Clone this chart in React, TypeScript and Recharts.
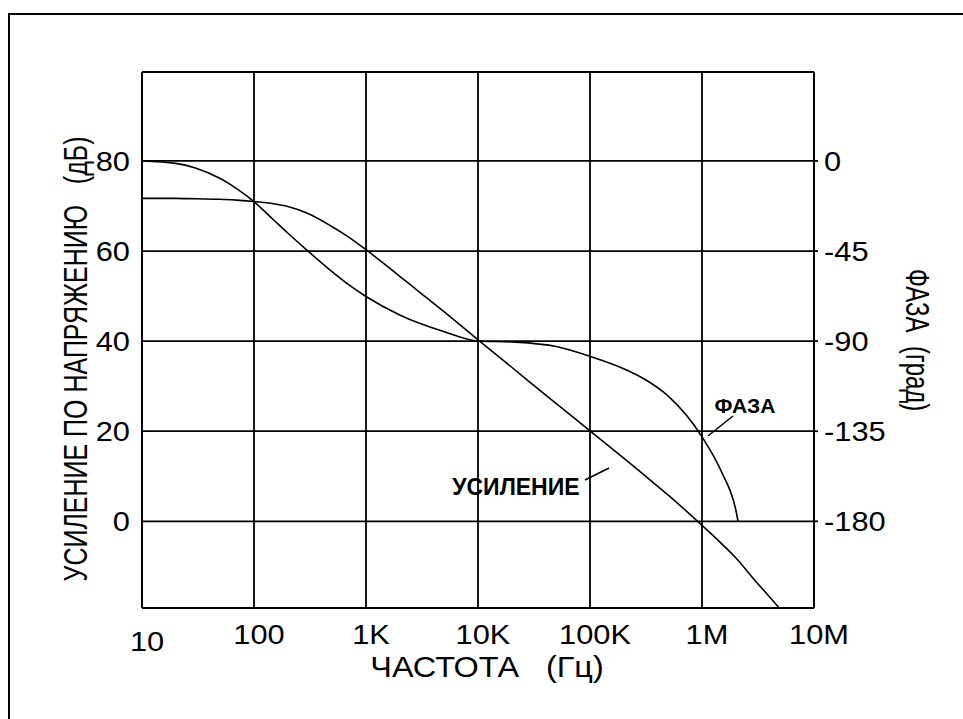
import React from 'react';
import {
  LineChart, Line, XAxis, YAxis, CartesianGrid, ReferenceLine, ReferenceDot,
} from 'recharts';

// Values
const freqHz = [
  10, 20, 30, 50, 70, 100, 150, 200, 300, 500, 700, 1000, 2000, 3000, 5000,
  10000, 20000, 50000, 100000, 200000, 300000, 500000, 1000000, 1500000,
  2000000, 2100000, 3000000, 4000000, 4900000,
];
// gain has no reading at 2.1M (that point is only where the phase ends)
const gainDb: (number | null)[] = [
  71.7, 71.7, 71.6, 71.5, 71.3, 71.0, 70.5, 69.9, 68.4, 65.4, 63.1, 60.3, 54.4, 50.9, 46.5,
  40.3, 34.2, 26.1, 20.1, 14.0, 10.4, 5.8, -0.9, -5.0,
  -8.1, null, -13.25, -16.75, -19.25,
];
const phaseDeg: (number | null)[] = [
  0, -1.2, -3.5, -8.8, -13.8, -20.3, -29.5, -36, -44.8, -55.4, -61.8, -67.7, -76.9, -81.1, -85.3,
  -89.9, -90.4, -92.7, -97.6, -103.8, -108.7, -117.5, -137.8, -155.5,
  -174.1, -180, null, null, null,
];

const xTicks = [10, 100, 1e3, 1e4, 1e5, 1e6, 1e7];
const xTickLabels = ['10', '100', '1K', '10K', '100K', '1M', '10M'];
const gainTicks = [0, 20, 40, 60, 80];
const phaseTicks = [0, -45, -90, -135, -180];

const rows = freqHz.map((f, i) => ({ f, gain: gainDb[i], phase: phaseDeg[i] }));

const FONT = '"Liberation Sans", Arial, sans-serif';
const axisText = { fill: '#000', fontFamily: FONT };

const XTick = (props: any) => {
  const { x, y, payload } = props;
  const lbl = xTickLabels[xTicks.indexOf(payload.value)];
  const low = payload.value === 10 ? 7 : 0;
  return (
    <text transform={`translate(${x + 5},${y + 36 + low}) scale(1.1,1)`} textAnchor="middle" fontSize={28} {...axisText}>
      {lbl}
    </text>
  );
};

const LeftTick = (props: any) => {
  const { x, y, payload } = props;
  return (
    <text transform={`translate(${x - 12},${y + 10}) scale(1.1,1)`} textAnchor="end" fontSize={28} {...axisText}>
      {payload.value}
    </text>
  );
};

const RightTick = (props: any) => {
  const { x, y, payload } = props;
  return (
    <g>
      <line x1={x} x2={x + 4} y1={y} y2={y} stroke="#000" strokeWidth={1.8} />
      <text transform={`translate(${x + 10},${y + 10}) scale(1.1,1)`} textAnchor="start" fontSize={28} {...axisText}>
        {payload.value}
      </text>
    </g>
  );
};

const titleStyle = { whiteSpace: 'pre' as const };

const App: React.FC = () => (
  <div style={{ position: 'fixed', left: 0, top: 0, width: 963, height: 719, overflow: 'hidden', background: '#fff' }}>
    <div style={{ position: 'absolute', left: 8, top: 13, width: 1100, height: 1100, border: '2px solid #000' }} />
    <LineChart
      width={963}
      height={719}
      data={rows}
      margin={{ top: 72, right: 89, bottom: 71, left: 82 }}
      style={{ position: 'absolute', left: 0, top: 0 }}
    >
      <CartesianGrid yAxisId="left" stroke="#000" strokeWidth={1.8} />
      <XAxis
        dataKey="f"
        type="number"
        scale="log"
        domain={[10, 1e7]}
        ticks={xTicks}
        allowDataOverflow
        height={40}
        tickLine={false}
        tickSize={0}
        tickMargin={0}
        axisLine={{ stroke: '#000', strokeWidth: 2 }}
        tick={<XTick />}
        label={() => (
          <text
            transform="translate(487,677) scale(1.08,1)"
            textAnchor="middle"
            fontSize={30}
            style={titleStyle}
            {...axisText}
          >
            {'ЧАСТОТА   (Гц)'}
          </text>
        )}
      />
      <YAxis
        yAxisId="left"
        orientation="left"
        type="number"
        domain={[-19.25, 99.75]}
        ticks={gainTicks}
        allowDataOverflow
        width={60}
        tickLine={false}
        tickSize={0}
        tickMargin={0}
        axisLine={{ stroke: '#000', strokeWidth: 2 }}
        tick={<LeftTick />}
        label={() => (
          <text
            transform="translate(75,359) scale(1.35,1) rotate(-90)"
            textAnchor="middle"
            dominantBaseline="central"
            fontSize={25}
            style={titleStyle}
            {...axisText}
          >
            {'УСИЛЕНИЕ ПО НАПРЯЖЕНИЮ   (дБ)'}
          </text>
        )}
      />
      <YAxis
        yAxisId="right"
        orientation="right"
        type="number"
        domain={[-223.3125, 44.4375]}
        ticks={phaseTicks}
        allowDataOverflow
        width={60}
        tickLine={false}
        tickSize={0}
        tickMargin={0}
        axisLine={{ stroke: '#000', strokeWidth: 2 }}
        tick={<RightTick />}
        label={() => (
          <text
            transform="translate(917,340) scale(1.35,1) rotate(90)"
            textAnchor="middle"
            dominantBaseline="central"
            fontSize={24}
            style={titleStyle}
            {...axisText}
          >
            {'ФАЗА  (град)'}
          </text>
        )}
      />
      <ReferenceLine yAxisId="left" y={99.75} stroke="#000" strokeWidth={2} />

      <Line yAxisId="left" dataKey="gain" type="monotone" stroke="#000" strokeWidth={1.6} dot={false} connectNulls isAnimationActive={false} />
      <Line yAxisId="right" dataKey="phase" type="monotone" stroke="#000" strokeWidth={1.6} dot={false} connectNulls={false} isAnimationActive={false} />

      {/* callouts */}
      <ReferenceLine yAxisId="left" segment={[{ x: 90200, y: 9.17 }, { x: 148000, y: 11.83 }]} stroke="#000" strokeWidth={1.5} ifOverflow="visible" />
      <ReferenceLine yAxisId="left" segment={[{ x: 1890000, y: 23.38 }, { x: 1130000, y: 18.94 }]} stroke="#000" strokeWidth={1.5} ifOverflow="visible" />
      <ReferenceDot
        yAxisId="left"
        x={21800}
        y={7.72}
        r={0}
        fill="none"
        stroke="none"
        ifOverflow="visible"
        label={{ value: 'УСИЛЕНИЕ', position: 'center', fontSize: 23, fontWeight: 'bold', fill: '#000', fontFamily: FONT }}
      />
      <ReferenceDot
        yAxisId="left"
        x={2420000}
        y={25.6}
        r={0}
        fill="none"
        stroke="none"
        ifOverflow="visible"
        label={{ value: 'ФАЗА', position: 'center', fontSize: 21, fontWeight: 'bold', fill: '#000', fontFamily: FONT }}
      />
    </LineChart>
  </div>
);

export default App;
